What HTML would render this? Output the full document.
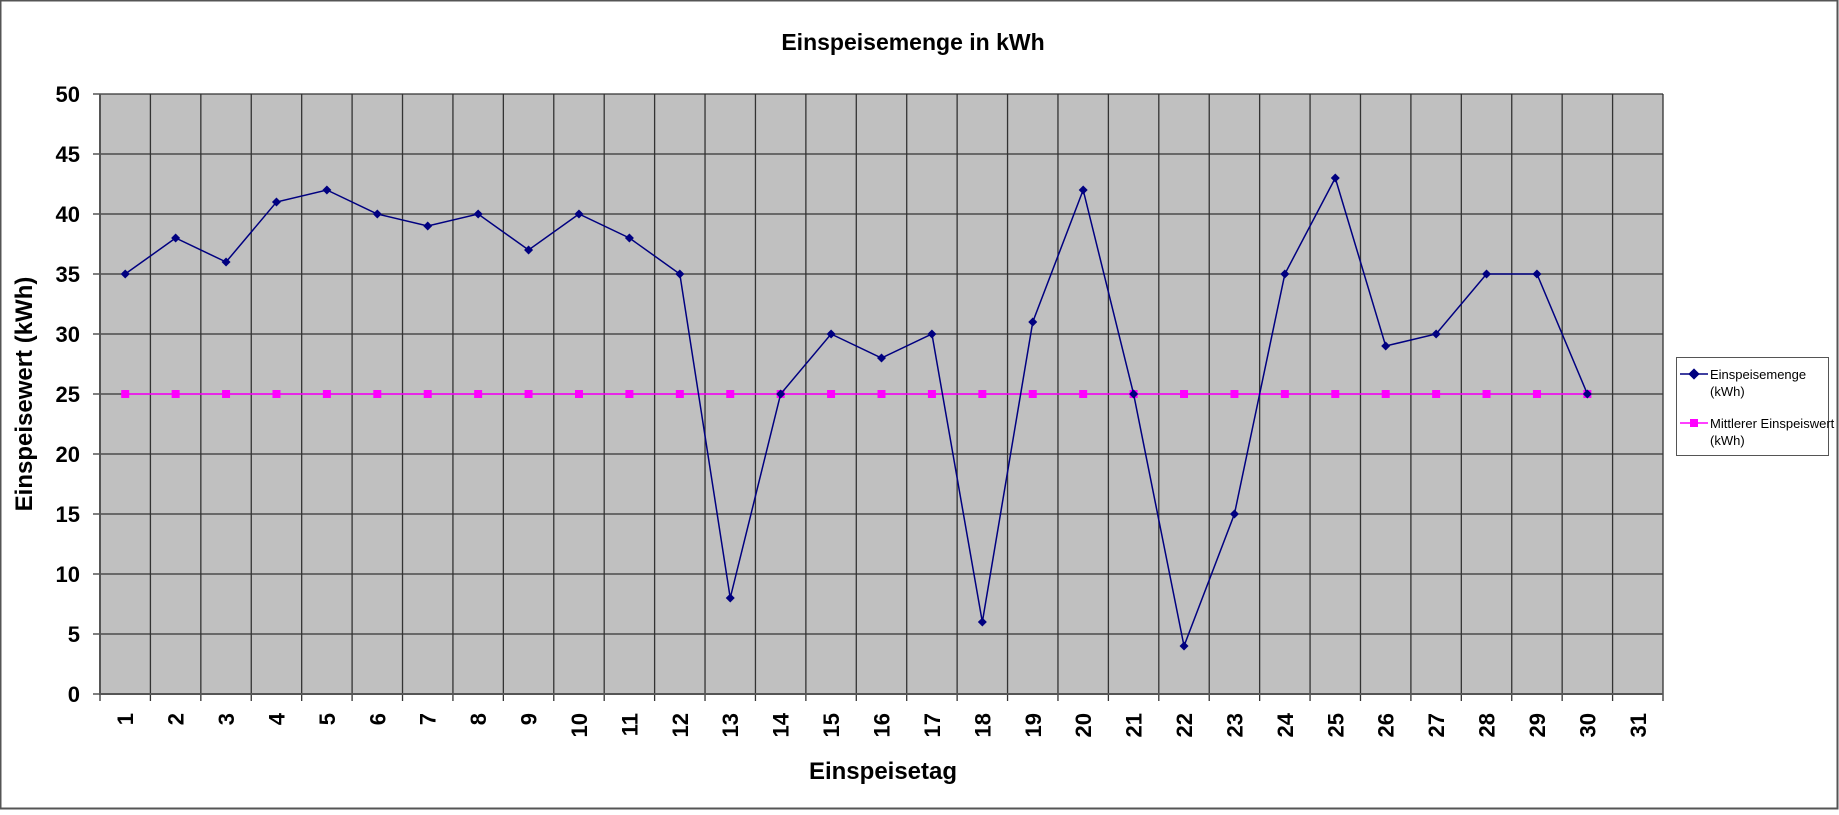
<!DOCTYPE html>
<html><head><meta charset="utf-8"><style>
body{margin:0;background:#fff;}
svg text{font-family:"Liberation Sans",Arial,sans-serif;}
</style></head><body>
<svg id="chart" width="1839" height="810" xmlns="http://www.w3.org/2000/svg">
<rect x="0.5" y="0.5" width="1837" height="808" fill="#fff" stroke="#555" stroke-width="2"/>
<text x="913" y="50" text-anchor="middle" font-size="23" font-weight="bold">Einspeisemenge in kWh</text>
<rect x="100" y="94" width="1563" height="600" fill="#c0c0c0"/>
<g id="grid"></g><g id="axes"></g><g id="series"></g>
<text transform="translate(32,394) rotate(-90)" text-anchor="middle" font-size="24" font-weight="bold">Einspeisewert  (kWh)</text>
<text x="883" y="779" text-anchor="middle" font-size="24" font-weight="bold">Einspeisetag</text>
<g>
<rect x="1676.5" y="357.5" width="152" height="98" fill="#fff" stroke="#555"/>
<line x1="1680" y1="374" x2="1708" y2="374" stroke="#000080" stroke-width="1.5"/>
<rect x="1690" y="370" width="8" height="8" fill="#000080" transform="rotate(45 1694 374)"/>
<text x="1710" y="379" font-size="13">Einspeisemenge</text>
<text x="1710" y="396" font-size="13">(kWh)</text>
<line x1="1680" y1="423" x2="1708" y2="423" stroke="#ff00ff" stroke-width="1.5"/>
<rect x="1690" y="419" width="8" height="8" fill="#ff00ff"/>
<text x="1710" y="428" font-size="13">Mittlerer Einspeiswert</text>
<text x="1710" y="445" font-size="13">(kWh)</text>
</g>
</svg>
<script>
const categories=[1,2,3,4,5,6,7,8,9,10,11,12,13,14,15,16,17,18,19,20,21,22,23,24,25,26,27,28,29,30,31];
const einspeisemenge=[35,38,36,41,42,40,39,40,37,40,38,35,8,25,30,28,30,6,31,42,25,4,15,35,43,29,30,35,35,25];
const mittelwert=[25,25,25,25,25,25,25,25,25,25,25,25,25,25,25,25,25,25,25,25,25,25,25,25,25,25,25,25,25,25];
const yTicks=[0,5,10,15,20,25,30,35,40,45,50];
const NS="http://www.w3.org/2000/svg";
const L=100,R=1663,T=94,B=694,yMax=50;
const cw=(R-L)/categories.length;
const xs=i=>L+cw*(i+0.5);
const ys=v=>B-(v/yMax)*(B-T);
function mk(t,a,p){const e=document.createElementNS(NS,t);for(const k in a)e.setAttribute(k,a[k]);p.appendChild(e);return e;}
const grid=document.getElementById('grid'),axes=document.getElementById('axes'),ser=document.getElementById('series');
yTicks.forEach(v=>{
 const y=ys(v);
 const l=mk('line',{x1:L-7,x2:R,y1:y,y2:y,stroke:'#333','stroke-width':1.3},grid);
 
 
 const t=mk('text',{x:L-20,y:y+8,'text-anchor':'end','font-size':22,'font-weight':'bold'},axes);
 t.textContent=v;
 
 
});
for(let i=0;i<=categories.length;i++){
 const x=L+cw*i;
 const l=mk('line',{x1:x,x2:x,y1:T,y2:B+7,stroke:'#333','stroke-width':1.3},grid);
 
 
}
categories.forEach((c,i)=>{
 const x=xs(i);
 const t=mk('text',{transform:`translate(${x+8},713) rotate(-90)`,'text-anchor':'end','font-size':22,'font-weight':'bold'},axes);
 t.textContent=c;
 
 
});
mk('line',{x1:L,x2:L,y1:T,y2:B,stroke:'#555','stroke-width':2},axes);
mk('line',{x1:L,x2:R,y1:B,y2:B,stroke:'#555','stroke-width':2},axes);
const mp=mk('polyline',{points:mittelwert.map((v,i)=>xs(i)+','+ys(v)).join(' '),fill:'none',stroke:'#ff00ff','stroke-width':1.5},ser);


mittelwert.forEach((v,i)=>{
 const r=mk('rect',{x:xs(i)-4,y:ys(v)-4,width:8,height:8,fill:'#ff00ff'},ser);
 
 
});
const ep=mk('polyline',{points:einspeisemenge.map((v,i)=>xs(i)+','+ys(v)).join(' '),fill:'none',stroke:'#000080','stroke-width':1.5},ser);


einspeisemenge.forEach((v,i)=>{
 const x=xs(i),y=ys(v);
 const r=mk('polygon',{points:`${x},${y-4.5} ${x+4.5},${y} ${x},${y+4.5} ${x-4.5},${y}`,fill:'#000080'},ser);
 
 
});
</script>
</body></html>
